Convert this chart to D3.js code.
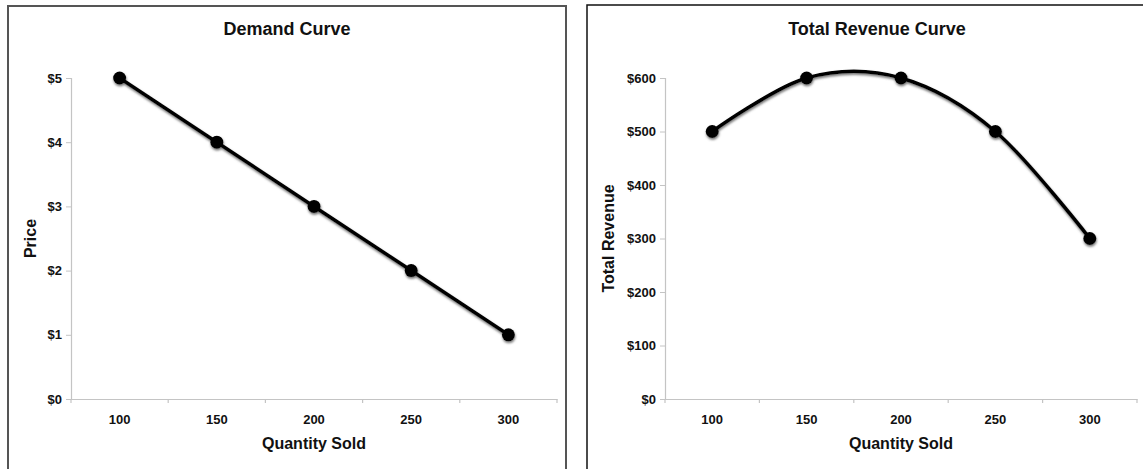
<!DOCTYPE html>
<html>
<head>
<meta charset="utf-8">
<script src="https://cdn.jsdelivr.net/npm/d3@7"></script>
<style>
  html, body { margin: 0; padding: 0; background: #fff; }
  svg { display: block; font-family: "Liberation Sans", Arial, Helvetica, sans-serif; font-weight: bold; }
</style>
</head>
<body>
<svg id="chart" width="1143" height="469"></svg>
<script>
// ---- data ----
const quantities = ["100", "150", "200", "250", "300"];
const prices = [5, 4, 3, 2, 1];
const revenues = [500, 600, 600, 500, 300];
const priceTicks = [0, 1, 2, 3, 4, 5];
const revenueTicks = [0, 100, 200, 300, 400, 500, 600];

const svg = d3.select("#chart");
const defs = svg.append("defs");
const f = defs.append("filter").attr("id", "shadow")
  .attr("x", "-20%").attr("y", "-20%").attr("width", "140%").attr("height", "140%");
f.append("feDropShadow").attr("dx", 0.5).attr("dy", 1.8).attr("stdDeviation", 1.3)
  .attr("flood-color", "#666").attr("flood-opacity", 0.9);

function panel(opts) {
  const g = svg.append("g");
  // border
  g.append("rect")
    .attr("x", opts.box[0]).attr("y", opts.box[1])
    .attr("width", opts.box[2]).attr("height", opts.box[3])
    .attr("fill", "#fff").attr("stroke", opts.borderColor).attr("stroke-width", opts.borderWidth);

  const x = d3.scaleBand().domain(quantities).range([opts.x0, opts.x1]).padding(0);
  const y = d3.scaleLinear().domain([0, d3.max(opts.ticks)]).range([opts.y0, opts.y1]);

  // title
  g.append("text").attr("x", opts.box[0] + opts.box[2] / 2).attr("y", 35)
    .attr("text-anchor", "middle").attr("font-size", 18).attr("fill", "#111")
    .text(opts.title);

  // y axis
  const ya = g.append("g").attr("transform", `translate(${opts.x0},0)`)
    .call(d3.axisLeft(y).tickValues(opts.ticks).tickSize(5).tickPadding(4).tickFormat(opts.fmt));
  ya.select(".domain").attr("stroke", "#c4c4c4").attr("stroke-width", 1.2);
  ya.selectAll(".tick line").attr("stroke", "#c4c4c4");
  ya.selectAll(".tick text").attr("font-size", 13).attr("font-family", "Liberation Sans, Arial, sans-serif")
    .attr("font-weight", "bold").attr("fill", "#111");

  // x axis (labels at band centers)
  const xa = g.append("g").attr("transform", `translate(0,${opts.y0})`)
    .call(d3.axisBottom(x).tickSize(0).tickPadding(16));
  xa.select(".domain").attr("stroke", "#c4c4c4").attr("stroke-width", 1.2);
  xa.selectAll(".tick text").attr("font-size", 13).attr("font-family", "Liberation Sans, Arial, sans-serif")
    .attr("font-weight", "bold").attr("fill", "#111");
  // tick marks between categories
  const edges = quantities.map(q => x(q)).concat([x.range()[1]]);
  g.append("g").selectAll("line").data(edges).join("line")
    .attr("x1", d => d).attr("x2", d => d)
    .attr("y1", opts.y0).attr("y2", opts.y0 + 4)
    .attr("stroke", "#c4c4c4").attr("stroke-width", 1.2);

  // axis titles
  g.append("text").attr("x", (opts.x0 + opts.x1) / 2).attr("y", 449)
    .attr("text-anchor", "middle").attr("font-size", 16).attr("fill", "#111")
    .text("Quantity Sold");
  g.append("text")
    .attr("transform", `translate(${opts.ylabX},${(opts.y0 + opts.y1) / 2}) rotate(-90)`)
    .attr("text-anchor", "middle").attr("font-size", 16).attr("fill", "#111")
    .text(opts.ylabel);

  // line + markers
  const pts = quantities.map((q, i) => [x(q) + x.bandwidth() / 2, y(opts.values[i])]);
  const line = d3.line().curve(opts.curve);
  const mg = g.append("g").attr("filter", "url(#shadow)");
  mg.append("path").attr("d", line(pts)).attr("fill", "none")
    .attr("stroke", "#000").attr("stroke-width", 3.6).attr("stroke-linejoin", "round");
  mg.selectAll("circle").data(pts).join("circle")
    .attr("cx", d => d[0]).attr("cy", d => d[1]).attr("r", 6.5).attr("fill", "#000");
}

panel({
  box: [8, 6, 558, 480], borderColor: "#555", borderWidth: 2,
  x0: 71, x1: 557, y0: 399, y1: 78,
  ticks: priceTicks, fmt: d => "$" + d,
  values: prices, title: "Demand Curve", ylabel: "Price", ylabX: 36,
  curve: d3.curveLinear
});

panel({
  box: [587, 5, 580, 480], borderColor: "#111", borderWidth: 1.5,
  x0: 665, x1: 1137, y0: 399, y1: 78,
  ticks: revenueTicks, fmt: d => "$" + d,
  values: revenues, title: "Total Revenue Curve", ylabel: "Total Revenue", ylabX: 614,
  curve: d3.curveCardinal.tension(0)
});
</script>
</body>
</html>
